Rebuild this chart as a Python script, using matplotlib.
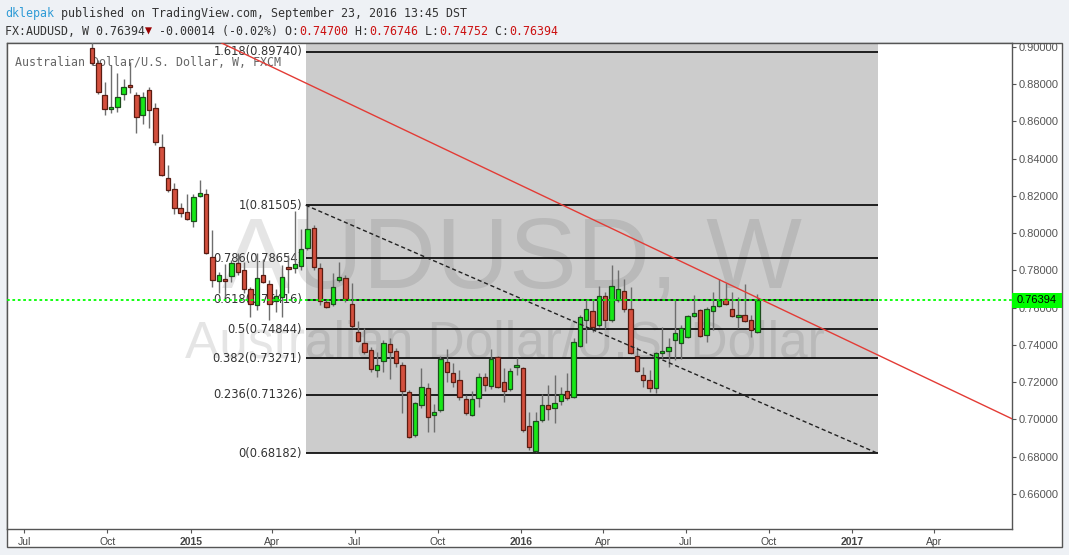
import numpy as np
import pandas as pd
import matplotlib
matplotlib.use('Agg')
import matplotlib.pyplot as plt
import matplotlib.dates as mdates
import matplotlib.transforms as mtransforms
from matplotlib.patches import Rectangle

# 週足 AUDUSD (2014-09 〜 2016-09)
opens = [0.8993, 0.8916, 0.8740, 0.8665, 0.8679, 0.8746, 0.8794, 0.8740, 0.8633, 0.8767,
         0.8671, 0.8461, 0.8295, 0.8236, 0.8133, 0.8114, 0.8064, 0.8200, 0.8209, 0.7870,
         0.7743, 0.7754, 0.7768, 0.7838, 0.7802, 0.7698, 0.7612, 0.7773, 0.7725, 0.7636,
         0.7656, 0.7817, 0.7811, 0.7824, 0.7919, 0.8026, 0.7811, 0.7629, 0.7620, 0.7747,
         0.7758, 0.7618, 0.7471, 0.7409, 0.7371, 0.7265, 0.7312, 0.7403, 0.7367, 0.7290,
         0.7145, 0.6916, 0.7076, 0.7170, 0.7022, 0.7049, 0.7306, 0.7247, 0.7210, 0.7108,
         0.7022, 0.7113, 0.7226, 0.7181, 0.7333, 0.7199, 0.7162, 0.7281, 0.7274, 0.6965,
         0.6832, 0.6997, 0.7077, 0.7061, 0.7099, 0.7151, 0.7120, 0.7394, 0.7534, 0.7580,
         0.7505, 0.7661, 0.7532, 0.7641, 0.7688, 0.7591, 0.7342, 0.7237, 0.7210, 0.7167,
         0.7355, 0.7366, 0.7425, 0.7408, 0.7441, 0.7553, 0.7586, 0.7452, 0.7580, 0.7607,
         0.7645, 0.7591, 0.7548, 0.7559, 0.7532, 0.7470]
highs = [0.9060, 0.8930, 0.8814, 0.8903, 0.8858, 0.8826, 0.8921, 0.8760, 0.8760, 0.8787,
         0.8697, 0.8533, 0.8366, 0.8268, 0.8164, 0.8210, 0.8210, 0.8286, 0.8236, 0.8017,
         0.7793, 0.7834, 0.7856, 0.7892, 0.7847, 0.7713, 0.7892, 0.7860, 0.7748, 0.7702,
         0.7827, 0.7881, 0.8121, 0.8024, 0.8148, 0.8044, 0.7838, 0.7641, 0.7784, 0.7847,
         0.7775, 0.7731, 0.7530, 0.7489, 0.7391, 0.7364, 0.7427, 0.7436, 0.7382, 0.7310,
         0.7158, 0.7095, 0.7274, 0.7194, 0.7083, 0.7341, 0.7376, 0.7301, 0.7265, 0.7131,
         0.7154, 0.7247, 0.7247, 0.7376, 0.7341, 0.7274, 0.7274, 0.7328, 0.7280, 0.7041,
         0.7041, 0.7136, 0.7185, 0.7238, 0.7176, 0.7251, 0.7435, 0.7561, 0.7641, 0.7641,
         0.7716, 0.7686, 0.7829, 0.7802, 0.7752, 0.7713, 0.7391, 0.7283, 0.7265, 0.7364,
         0.7494, 0.7435, 0.7641, 0.7507, 0.7561, 0.7668, 0.7591, 0.7605, 0.7686, 0.7752,
         0.7734, 0.7686, 0.7659, 0.7727, 0.7561, 0.7675]
lows = [0.8905, 0.8745, 0.8635, 0.8647, 0.8653, 0.8715, 0.8751, 0.8536, 0.8586, 0.8563,
        0.8474, 0.8307, 0.8223, 0.8103, 0.8089, 0.8071, 0.8031, 0.8196, 0.7888, 0.7713,
        0.7677, 0.7659, 0.7740, 0.7775, 0.7677, 0.7552, 0.7587, 0.7731, 0.7534, 0.7578,
        0.7552, 0.7677, 0.7784, 0.7802, 0.7910, 0.7802, 0.7615, 0.7596, 0.7609, 0.7740,
        0.7632, 0.7489, 0.7418, 0.7351, 0.7256, 0.7230, 0.7256, 0.7215, 0.7283, 0.7033,
        0.6898, 0.6907, 0.7060, 0.6934, 0.6934, 0.7042, 0.7199, 0.7176, 0.7104, 0.7024,
        0.7018, 0.7068, 0.7154, 0.7163, 0.7167, 0.7095, 0.7154, 0.7239, 0.6935, 0.6836,
        0.6827, 0.6988, 0.6997, 0.6979, 0.7077, 0.7104, 0.7113, 0.7391, 0.7412, 0.7471,
        0.7498, 0.7484, 0.7525, 0.7632, 0.7579, 0.7350, 0.7256, 0.7176, 0.7149, 0.7143,
        0.7328, 0.7283, 0.7319, 0.7323, 0.7435, 0.7552, 0.7441, 0.7417, 0.7480, 0.7602,
        0.7614, 0.7552, 0.7489, 0.7525, 0.7441, 0.7465]
closes = [0.8912, 0.8756, 0.8665, 0.8676, 0.8733, 0.8787, 0.8783, 0.8622, 0.8733, 0.8660,
          0.8491, 0.8311, 0.8230, 0.8133, 0.8106, 0.8074, 0.8193, 0.8214, 0.7892, 0.7749,
          0.7774, 0.7743, 0.7840, 0.7790, 0.7700, 0.7618, 0.7761, 0.7736, 0.7618, 0.7664,
          0.7763, 0.7806, 0.7833, 0.7917, 0.8021, 0.7820, 0.7638, 0.7605, 0.7713, 0.7763,
          0.7645, 0.7502, 0.7423, 0.7360, 0.7269, 0.7292, 0.7409, 0.7364, 0.7301, 0.7154,
          0.6904, 0.7086, 0.7176, 0.7011, 0.7038, 0.7323, 0.7253, 0.7203, 0.7122, 0.7033,
          0.7111, 0.7226, 0.7183, 0.7324, 0.7176, 0.7154, 0.7262, 0.7294, 0.6943, 0.6850,
          0.6991, 0.7077, 0.7054, 0.7090, 0.7138, 0.7115, 0.7417, 0.7548, 0.7591, 0.7494,
          0.7665, 0.7536, 0.7715, 0.7699, 0.7591, 0.7355, 0.7258, 0.7210, 0.7170, 0.7355,
          0.7366, 0.7387, 0.7462, 0.7489, 0.7553, 0.7571, 0.7446, 0.7591, 0.7607, 0.7641,
          0.7618, 0.7553, 0.7559, 0.7527, 0.7478, 0.7639]
first_week = '2014-09-14'

# フィボナッチ・リトレースメント
fib_ratios = ['1.618', '1', '0.786', '0.618', '0.5', '0.382', '0.236', '0']
fib_prices = [0.89740, 0.81505, 0.78654, 0.76416, 0.74844, 0.73271, 0.71326, 0.68182]
fib_start, fib_end = '2015-05-08', '2017-01-29'

# 赤のトレンドライン (2点)
trend_pts = [('2016-02-04', 0.81783), ('2017-06-27', 0.70021)]
last_price = 0.76394

y_ticks = [0.66, 0.68, 0.70, 0.72, 0.74, 0.76, 0.78, 0.80, 0.82, 0.84, 0.86, 0.88, 0.90]
x_tick_dates = ['2014-07-01', '2014-10-01', '2015-01-01', '2015-04-01', '2015-07-01', '2015-10-01',
                '2016-01-01', '2016-04-01', '2016-07-01', '2016-10-01', '2017-01-01', '2017-04-01']
x_tick_labels = ['Jul', 'Oct', '2015', 'Apr', 'Jul', 'Oct', '2016', 'Apr', 'Jul', 'Oct', '2017', 'Apr']

W, H = 1069, 555
fig = plt.figure(figsize=(W / 100, H / 100), dpi=100)
fig.patch.set_facecolor('#eef1f5')


def fx(px):
    return px / W


def fy(py):
    return 1 - py / H


# チャート枠
frame = Rectangle((fx(7), fy(547)), fx(1062) - fx(7), fy(43) - fy(547), transform=fig.transFigure,
                  facecolor='white', edgecolor='#555555', lw=1, zorder=-1)
fig.patches.append(frame)

ax = fig.add_axes([fx(7), fy(529), fx(1012) - fx(7), fy(43) - fy(529)])
ax.set_facecolor('white')
for s in ax.spines.values():
    s.set_color('#555555')
    s.set_linewidth(1)

d2n = lambda d: mdates.date2num(pd.Timestamp(d))
x0 = d2n('2015-01-01') - 203.0
x1 = d2n('2016-01-01') + 542.5
ax.set_xlim(x0, x1)
ax.set_ylim(0.64114, 0.90215)

# フィボナッチの背景と水平線
fs, fe = d2n(fib_start), d2n(fib_end)
ax.add_patch(Rectangle((fs, fib_prices[-1]), fe - fs, 1.0, facecolor='#cccccc', edgecolor='none', zorder=0.5))
ax.hlines(fib_prices, fs, fe, color='black', lw=1.2, zorder=2)
for r, p in zip(fib_ratios, fib_prices):
    ax.annotate(f'{r}({p:.5f})', xy=(fs, p), xytext=(-2.5, 0), textcoords='offset points',
                ha='right', va='center', fontsize=8.3, color='#333333', family='DejaVu Sans', zorder=1.6)

# ウォーターマーク
ax.text(fx(512), fy(288), 'AUDUSD, W', transform=fig.transFigure, ha='center', va='baseline',
        fontsize=73, family='Liberation Sans', color='#303030', alpha=0.12, zorder=1)
ax.text(fx(505), fy(357), 'Australian Dollar/U.S. Dollar', transform=fig.transFigure, ha='center',
        va='baseline', fontsize=37, family='Liberation Sans', color='#303030', alpha=0.12, zorder=1)
ax.text(fx(15), fy(63), 'Australian Dollar/U.S. Dollar, W, FXCM', transform=fig.transFigure,
        ha='left', va='center', fontsize=8.4, family='DejaVu Sans Mono', color='#666666', zorder=1.5)

# ローソク足
dates = pd.date_range(first_week, periods=len(opens), freq='7D')
xs = mdates.date2num(dates)
o = np.array(opens)
c = np.array(closes)
up = c >= o
body_bottom = np.minimum(o, c)
body_h = np.maximum(np.abs(c - o), 0.0002)
fill = np.where(up, '#17e817', '#d4503e')
edge = np.where(up, '#1d4d1d', '#5a1c12')
ax.vlines(xs, lows, highs, color='#6e6e6e', lw=1, zorder=3)
ax.bar(xs, body_h, bottom=body_bottom, width=5.0, color=fill, edgecolor=edge, linewidth=0.9, zorder=4)

# ライン類
ax.plot([fs, fe], [fib_prices[1], fib_prices[-1]], color='#222222', lw=1, ls=(0, (3, 2)), zorder=5)
ax.axline((d2n(trend_pts[0][0]), trend_pts[0][1]), (d2n(trend_pts[1][0]), trend_pts[1][1]),
          color='#e33b35', lw=1, zorder=5)
ax.axhline(last_price, color='#00ff00', lw=1.3, ls=(0, (1.5, 1.5)), zorder=6)

# 軸
ax.yaxis.tick_right()
ax.set_yticks(y_ticks)
ax.set_yticklabels([f'{v:.5f}' for v in y_ticks])
ax.tick_params(axis='y', direction='out', length=3, color='#555555', labelsize=8, labelcolor='#555555', pad=1.5)
ax.set_xticks([d2n(d) for d in x_tick_dates])
ax.set_xticklabels(x_tick_labels)
ax.tick_params(axis='x', direction='out', length=3, color='#555555', labelsize=7.5, labelcolor='#444444', pad=2.7)
for lab in ax.get_xticklabels() + ax.get_yticklabels():
    lab.set_family('Liberation Sans')
for lab in ax.get_xticklabels():
    if lab.get_text().isdigit():
        lab.set_fontweight('bold')

# 現在値ラベル
tr = mtransforms.blended_transform_factory(ax.transAxes, ax.transData)
bw = 50 / 1005
bh = 15 / 1862
ax.add_patch(Rectangle((1.0, last_price - bh / 2), bw, bh, transform=tr, facecolor='#00ff00',
                       edgecolor='none', clip_on=False, zorder=10))
ax.text(1.0 + bw / 2, last_price, f'{last_price:.5f}', transform=tr, ha='center', va='center',
        fontsize=8, family='Liberation Sans', color='black', clip_on=False, zorder=11)

# ヘッダー (等幅フォントで色分け)
mono = dict(family=['DejaVu Sans Mono'], fontsize=8.4, va='center', ha='left')
line1 = 'dklepak published on TradingView.com, September 23, 2016 13:45 DST'
fig.text(fx(5), fy(14), ' ' * 7 + line1[7:], color='#333333', **mono)
fig.text(fx(5), fy(14), 'dklepak', color='#2f9bd6', **mono)

parts = [('FX:AUDUSD, W 0.76394', '#333333'), ('▼', '#990000'), (' -0.00014 (-0.02%) O:', '#333333'),
         ('0.74700', '#cc1111'), (' H:', '#333333'), ('0.76746', '#cc1111'), (' L:', '#333333'),
         ('0.74752', '#cc1111'), (' C:', '#333333'), ('0.76394', '#cc1111')]
pos = 0
for txt, col in parts:
    fig.text(fx(5 + pos * 7.0), fy(31.5), txt, color=col, **mono)
    pos += len(txt)

fig.savefig('out.png', dpi=100, facecolor=fig.get_facecolor())
